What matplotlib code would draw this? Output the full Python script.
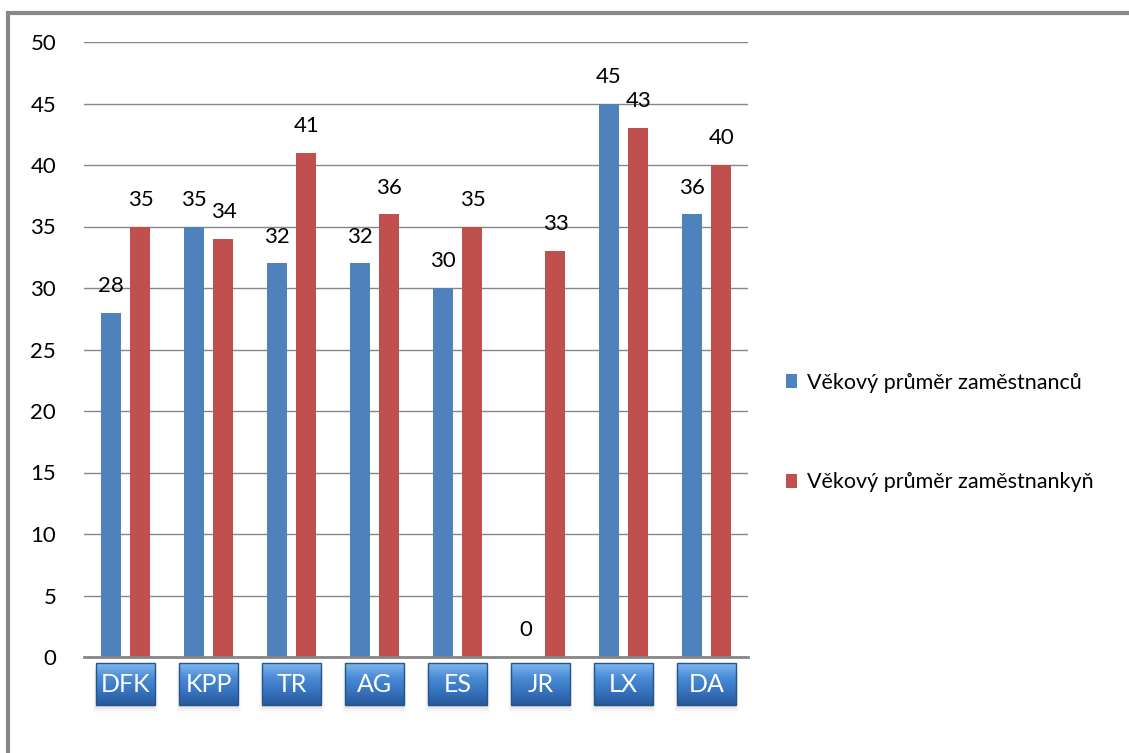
import matplotlib
matplotlib.use("Agg")
import matplotlib.pyplot as plt
import numpy as np
from matplotlib.patches import FancyBboxPatch, Rectangle
from matplotlib.transforms import blended_transform_factory
from matplotlib.colors import LinearSegmentedColormap

plt.rcParams['font.family'] = ['Lato', 'DejaVu Sans']

categories = ["DFK", "KPP", "TR", "AG", "ES", "JR", "LX", "DA"]
men = [28, 35, 32, 32, 30, 0, 45, 36]
women = [35, 34, 41, 36, 35, 33, 43, 40]
series_names = ["Věkový průměr zaměstnanců", "Věkový průměr zaměstnankyň"]
yticks = [0, 5, 10, 15, 20, 25, 30, 35, 40, 45, 50]

W, H = 1129, 753
fig = plt.figure(figsize=(W / 100, H / 100), dpi=100)
ax = fig.add_axes([84 / W, (H - 657) / H, (748 - 84) / W, (657 - 42) / H])

x = np.arange(len(categories))
bw = 0.24
off = 0.18
b1 = ax.bar(x - off, men, bw, color="#4F81BD", zorder=3, label=series_names[0])
b2 = ax.bar(x + off, women, bw, color="#C0504D", zorder=3, label=series_names[1])

for bars, vals in ((b1, men), (b2, women)):
    for rect, v in zip(bars, vals):
        ax.annotate(f"{v}", (rect.get_x() + rect.get_width() / 2, v),
                    xytext=(0, 12), textcoords="offset points",
                    ha="center", va="bottom", fontsize=16, color="black")

ax.set_xlim(-0.5, len(categories) - 0.5)
ax.set_ylim(0, 50)
ax.set_yticks(yticks)
ax.yaxis.grid(True, color="#868686", lw=1, zorder=0)
ax.tick_params(axis="y", length=0, pad=20, labelsize=16)
ax.set_xticks([])
for s in ("top", "right", "left"):
    ax.spines[s].set_visible(False)
ax.spines["bottom"].set_color("#868686")
ax.spines["bottom"].set_linewidth(2)
ax.spines["bottom"].set_zorder(4)

# category label buttons
trans = blended_transform_factory(ax.transData, ax.transAxes)
cmap = LinearSegmentedColormap.from_list("btn", ["#80B8F0", "#4B8CD6", "#3674C0", "#28599A"])
bwid = 0.72
ytop = -6 / 615
ybot = -48 / 615
grad = np.linspace(0, 1, 64).reshape(-1, 1)
for i, c in enumerate(categories):
    # shadow
    for k, a in enumerate([0.12, 0.08, 0.05, 0.03]):
        sh = Rectangle((i - bwid / 2 - 0.012 * k, ybot - (2 + 2 * k) / 615),
                       bwid + 0.024 * k, (ytop - ybot), transform=trans,
                       facecolor="#808080", alpha=a, edgecolor="none",
                       clip_on=False, zorder=1)
        ax.add_patch(sh)
    p = FancyBboxPatch((i - bwid / 2, ybot), bwid, ytop - ybot,
                       boxstyle="square,pad=0", transform=trans,
                       facecolor="none", edgecolor="#24548C", lw=1,
                       clip_on=False, zorder=5)
    ax.add_patch(p)
    im = ax.imshow(grad, cmap=cmap, aspect="auto",
                   extent=(i - bwid / 2, i + bwid / 2, ybot, ytop),
                   transform=trans, clip_on=False, zorder=4)
    im.set_clip_path(p)
    ax.text(i, (ytop + ybot) / 2, c, transform=trans, ha="center", va="center",
            color="white", fontsize=18, zorder=6, clip_on=False)

ax.set_xlim(-0.5, len(categories) - 0.5)
ax.set_ylim(0, 50)

fig.legend(handles=[b1, b2], labels=series_names, loc="upper left",
           bbox_to_anchor=(777 / W, 1 - 364 / H), frameon=False,
           fontsize=15.5, handlelength=0.55, handleheight=0.6, handletextpad=0.45,
           labelspacing=3.7, borderaxespad=0)

# outer border
fig.add_artist(Rectangle((8 / W, -0.1), 1.2, 1.1 - 13 / H, transform=fig.transFigure,
                         facecolor="none", edgecolor="#878787", lw=3, zorder=0))

fig.savefig("out.png", dpi=100)
